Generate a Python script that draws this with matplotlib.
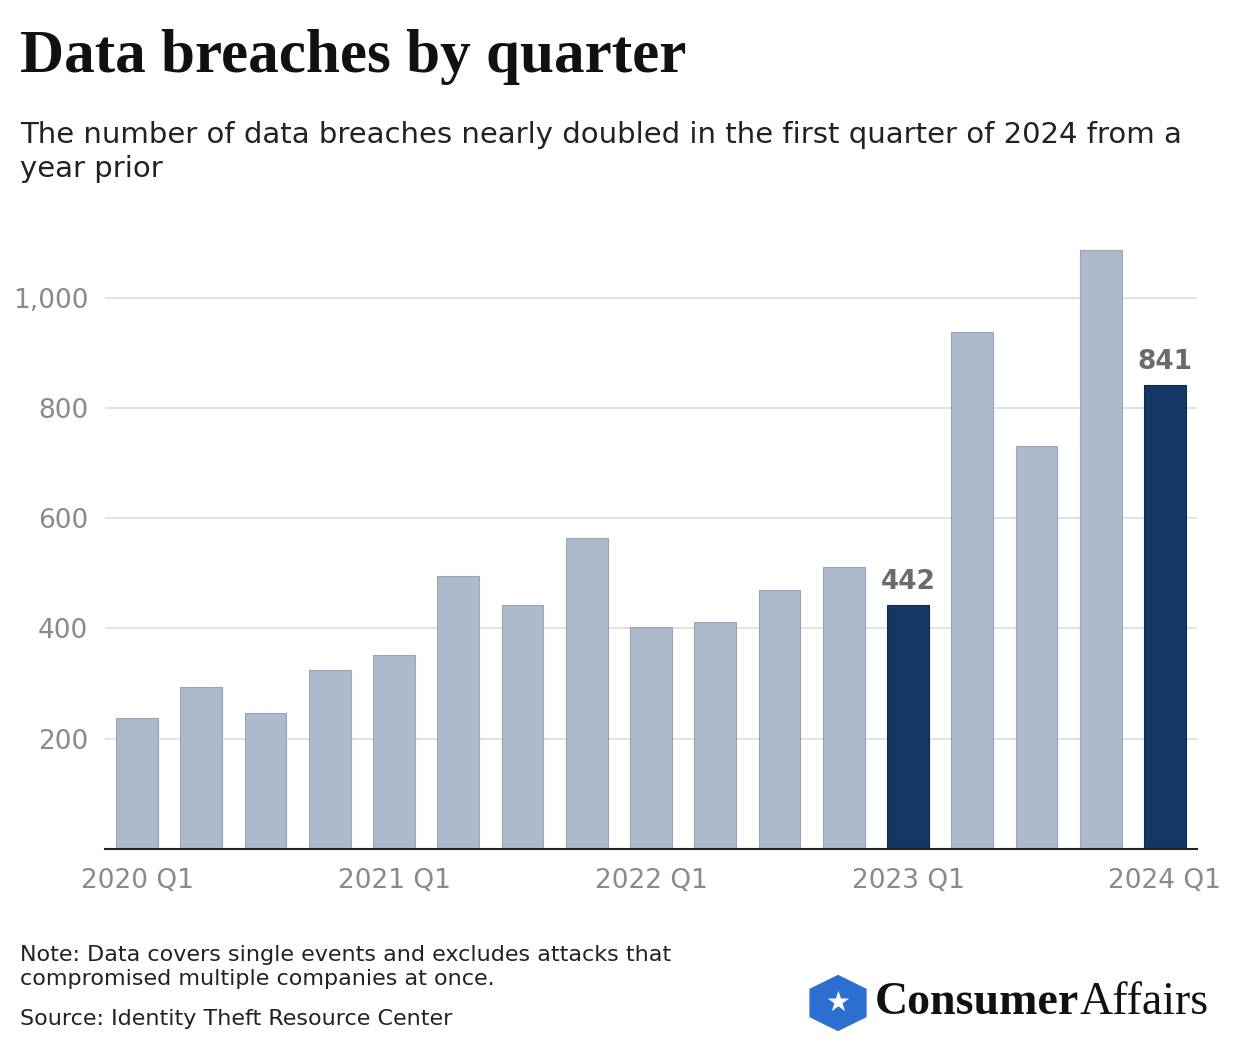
import matplotlib
matplotlib.use("Agg")
import matplotlib.pyplot as plt
from matplotlib.patches import RegularPolygon

quarters = ["2020 Q1","2020 Q2","2020 Q3","2020 Q4","2021 Q1","2021 Q2","2021 Q3","2021 Q4",
            "2022 Q1","2022 Q2","2022 Q3","2022 Q4","2023 Q1","2023 Q2","2023 Q3","2023 Q4","2024 Q1"]
values = [238, 294, 247, 325, 352, 495, 443, 564, 403, 412, 470, 512, 442, 938, 731, 1087, 841]
highlight = ["2023 Q1", "2024 Q1"]
tick_labels = ["2020 Q1", "2021 Q1", "2022 Q1", "2023 Q1", "2024 Q1"]
yticks = [200, 400, 600, 800, 1000]

fig = plt.figure(figsize=(12.4, 10.54), dpi=100)
ax = fig.add_axes([105/1240, 1-849/1054, (1197-105)/1240, (849-220)/1054])
x = list(range(len(quarters)))
colors = ["#143863" if q in highlight else "#adbaca" for q in quarters]
edges = ["#0f2c4f" if q in highlight else "#97a5b8" for q in quarters]
ax.bar(x, values, width=0.65, color=colors, edgecolor=edges, linewidth=0.8, zorder=2)
for i, q in enumerate(quarters):
    if q in highlight:
        ax.text(i, values[i] + 18, f"{values[i]}", ha="center", va="bottom",
                fontsize=19, fontweight="bold", color="#6b6b6b")
ax.set_xlim(-0.5, len(quarters) - 0.5)
ax.set_ylim(0, 1141)
ax.set_yticks(yticks)
ax.set_yticklabels([f"{v:,}" for v in yticks])
ax.yaxis.grid(True, color="#dddddd", linewidth=1.2, zorder=0)
ax.set_axisbelow(True)
ax.set_xticks([quarters.index(t) for t in tick_labels])
ax.set_xticklabels(tick_labels)
ax.tick_params(axis="both", length=0, labelsize=19, labelcolor="#8a8a8a")
ax.tick_params(axis="x", pad=14)
ax.tick_params(axis="y", pad=12)
for s in ["top", "right", "left"]:
    ax.spines[s].set_visible(False)
ax.spines["bottom"].set_color("#222222")
ax.spines["bottom"].set_linewidth(1.5)

fig.text(20/1240, 1-57/1054, "Data breaches by quarter", fontsize=44, family="Liberation Serif",
         fontweight="bold", va="center", color="#111111")
fig.text(20/1240, 1-152/1054, "The number of data breaches nearly doubled in the first quarter of 2024 from a\nyear prior",
         fontsize=21, va="center", color="#222222", linespacing=1.3)
fig.text(20/1240, 1-967/1054, "Note: Data covers single events and excludes attacks that\ncompromised multiple companies at once.",
         fontsize=16, va="center", color="#222222", linespacing=1.3)
fig.text(20/1240, 1-1019/1054, "Source: Identity Theft Resource Center", fontsize=16, va="center", color="#222222")
fig.patches.append(RegularPolygon((838/1240, 1-1003/1054), 6, radius=0.026, orientation=0,
                                  transform=fig.transFigure, color="#2d6fd1", figure=fig))
fig.text(838/1240, 1-1003/1054, "★", fontsize=20, color="white", ha="center", va="center")
t1 = fig.text(875/1240, 1-1003/1054, "Consumer", fontsize=33, family="Liberation Serif", fontweight="bold",
              va="center", color="#111111")
fig.canvas.draw()
bb = t1.get_window_extent()
fig.text(bb.x1/1240, 1-1003/1054, "Affairs", fontsize=33, family="Liberation Serif",
         va="center", ha="left", color="#111111")
fig.savefig("out.png", dpi=100)
